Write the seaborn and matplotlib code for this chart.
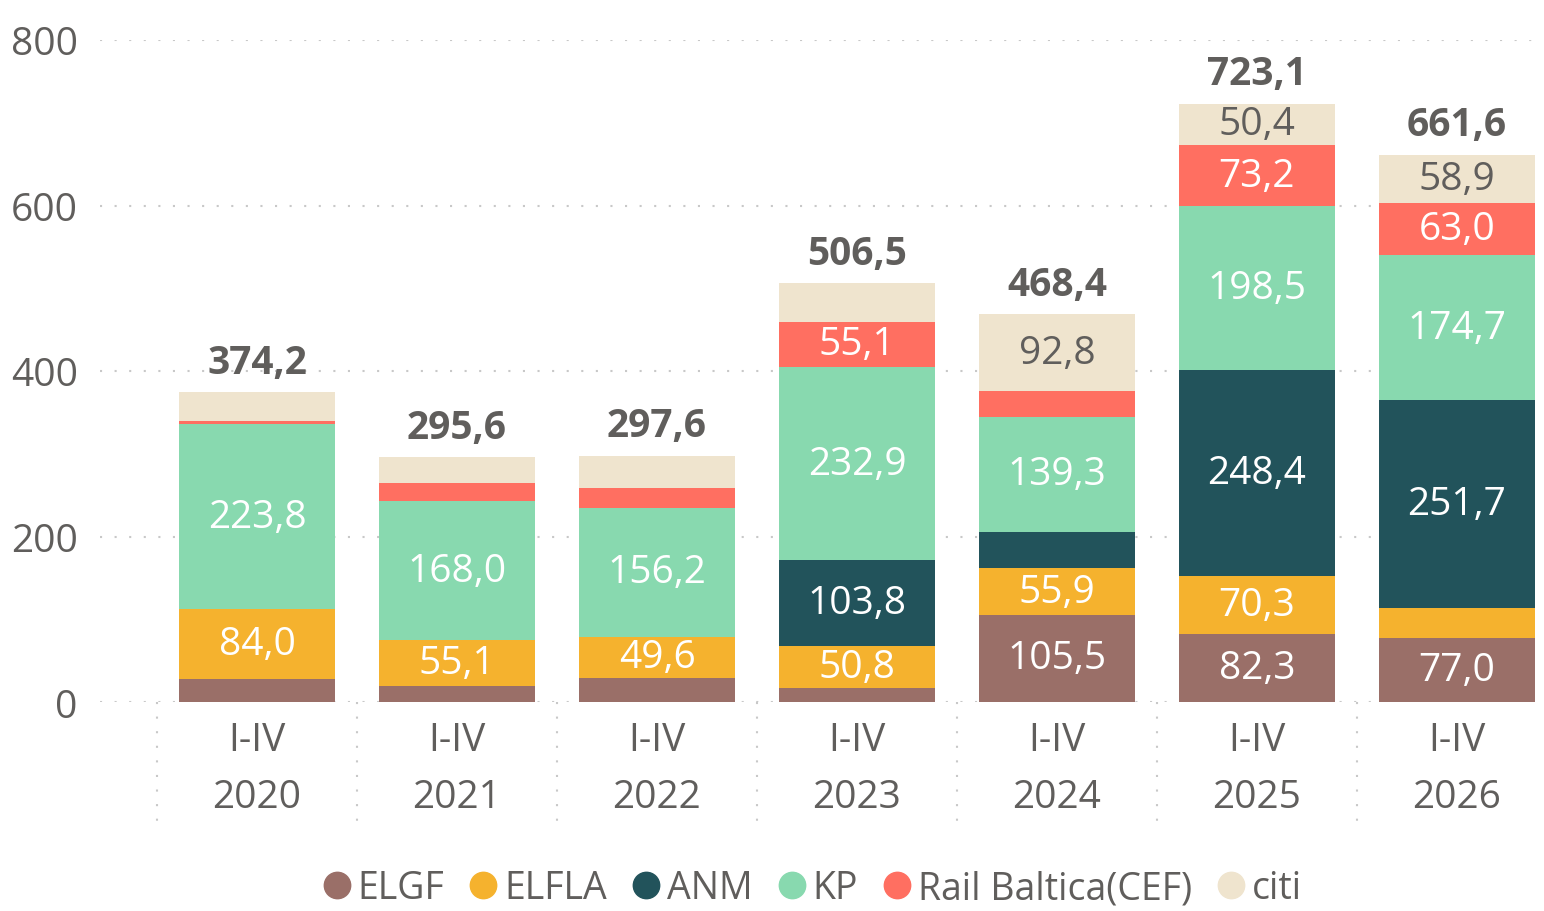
import matplotlib
matplotlib.use("Agg")
import matplotlib.pyplot as plt
import matplotlib.transforms as mtransforms
from matplotlib.lines import Line2D
import numpy as np
import pandas as pd
import seaborn as sns

# data
periods = ["I-IV\n2020", "I-IV\n2021", "I-IV\n2022", "I-IV\n2023", "I-IV\n2024", "I-IV\n2025", "I-IV\n2026"]
series = ["ELGF", "ELFLA", "ANM", "KP", "Rail Baltica(CEF)", "citi"]
elgf = [27.8, 19.3, 29.0, 17.0, 105.5, 82.3, 77.0]
elfla = [84.0, 55.1, 49.6, 50.8, 55.9, 70.3, 36.3]
anm = [0.0, 0.0, 0.0, 103.8, 44.0, 248.4, 251.7]
kp = [223.8, 168.0, 156.2, 232.9, 139.3, 198.5, 174.7]
rail = [3.5, 22.3, 23.8, 55.1, 30.9, 73.2, 63.0]
citi = [35.1, 30.9, 39.0, 46.9, 92.8, 50.4, 58.9]
totals = [374.2, 295.6, 297.6, 506.5, 468.4, 723.1, 661.6]

colors = ["#9A6F68", "#F5B22E", "#22535B", "#88D9AF", "#FF6F61", "#EFE4CE"]
label_colors = ["white", "white", "white", "white", "white", "#605E5C"]
grey = "#605E5C"

df = pd.DataFrame({"period": periods, "ELGF": elgf, "ELFLA": elfla, "ANM": anm,
                   "KP": kp, "Rail Baltica(CEF)": rail, "citi": citi})
cum = df[series].cumsum(axis=1)

sns.set_theme(style="white")
plt.rcParams["font.family"] = ["Open Sans", "DejaVu Sans"]

fig = plt.figure(figsize=(15.44, 9.12), dpi=100)
ax = fig.add_axes([100 / 1544, 1 - 703 / 912, 1440 / 1544, 662 / 912])

# stacked bars: draw cumulative heights from the top layer down
for s, c in zip(reversed(series), reversed(colors)):
    sns.barplot(x=df["period"], y=cum[s], color=c, width=0.78, saturation=1,
                ax=ax, zorder=2, linewidth=0)

# segment labels
for j, s in enumerate(series):
    for i in range(len(periods)):
        v = df[s][i]
        if v >= 48:
            mid = cum[s][i] - v / 2
            ax.text(i, mid, f"{v:.1f}".replace(".", ","), ha="center", va="center",
                    fontsize=28, color=label_colors[j], zorder=3)

# totals
for i, t in enumerate(totals):
    ax.text(i, t + 36, f"{t:.1f}".replace(".", ","), ha="center", va="center",
            fontsize=28, fontweight="bold", color=grey, zorder=3)

ax.set_xlim(-0.785, 6.415)
ax.set_ylim(0, 800)
ax.set_yticks([0, 200, 400, 600, 800])
ax.set_xlabel("")
ax.set_ylabel("")
ax.grid(axis="y", linestyle=(0, (1, 6)), color="#C8C8C8", linewidth=1.5, zorder=0)
ax.grid(axis="x", visible=False)
for sp in ax.spines.values():
    sp.set_visible(False)
ax.tick_params(axis="y", length=0, pad=16, labelsize=28, labelcolor=grey)
ax.tick_params(axis="x", length=0, pad=14, labelsize=28, labelcolor=grey)
for lbl in ax.get_xticklabels():
    lbl.set_linespacing(1.65)

# dotted category separators below the axis
trans = mtransforms.blended_transform_factory(ax.transData, ax.transAxes)
for b in np.arange(-0.5, 6.0, 1.0):
    ax.plot([b, b], [0, -0.192], transform=trans, clip_on=False,
            linestyle=(0, (1, 6)), color="#C8C8C8", linewidth=1.5)

handles = [Line2D([0], [0], marker="o", linestyle="", markersize=19,
                  markerfacecolor=c, markeredgecolor=c) for c in colors]
fig.legend(handles, series, loc="center", bbox_to_anchor=(809 / 1544, 0.025),
           ncol=6, frameon=False, fontsize=27, labelcolor=grey,
           handletextpad=0.0, columnspacing=0.5, handlelength=1.1)

fig.savefig("out.png", dpi=100)
plt.close(fig)
